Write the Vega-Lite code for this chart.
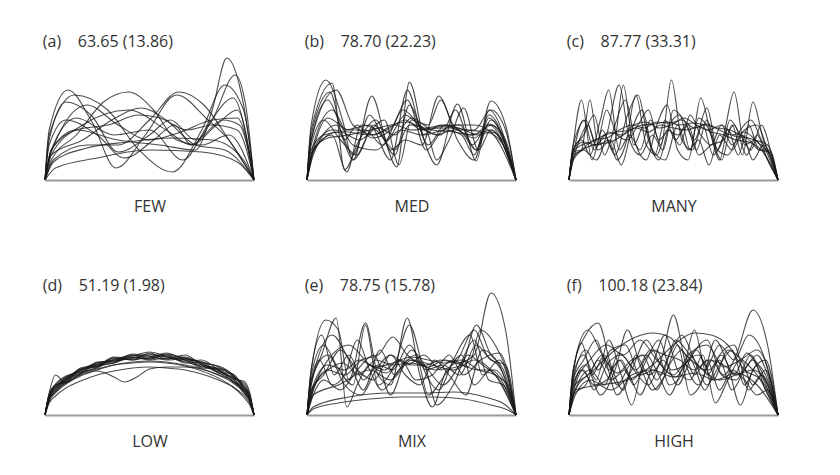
{
"$schema": "https://vega.github.io/schema/vega-lite/v6.json",
"background": "white",
"padding": {"top": 34, "left": 42, "right": 10, "bottom": 10},
"config": {
"view": {"stroke": null},
"font": "Open Sans",
"title": {"anchor": "start", "fontSize": 16, "fontWeight": "normal", "color": "#333", "font": "Open Sans", "offset": 4},
"axisX": {"domainColor": "#999", "domainWidth": 2, "ticks": false, "labels": false, "grid": false, "titleFontSize": 16, "titleFontWeight": "normal", "titleColor": "#333", "titleFont": "Open Sans", "titlePadding": 18},
"line": {"interpolate": "monotone", "color": "#1a1a1a", "strokeWidth": 1.1, "opacity": 0.78}
},
"datasets": {
"a": [
{"c":1,"x":0,"y":0},{"c":1,"x":3,"y":30},{"c":1,"x":15,"y":50},{"c":1,"x":35,"y":40},{"c":1,"x":55,"y":35},{"c":1,"x":72,"y":30},{"c":1,"x":80,"y":70},{"c":1,"x":87,"y":122},{"c":1,"x":93,"y":95},{"c":1,"x":97,"y":50},{"c":1,"x":100,"y":0},
{"c":2,"x":0,"y":0},{"c":2,"x":3,"y":25},{"c":2,"x":18,"y":55},{"c":2,"x":40,"y":70},{"c":2,"x":58,"y":50},{"c":2,"x":70,"y":35},{"c":2,"x":80,"y":60},{"c":2,"x":91,"y":105},{"c":2,"x":96,"y":75},{"c":2,"x":100,"y":0},
{"c":3,"x":0,"y":0},{"c":3,"x":2,"y":50},{"c":3,"x":11,"y":90},{"c":3,"x":22,"y":60},{"c":3,"x":34,"y":12},{"c":3,"x":48,"y":45},{"c":3,"x":63,"y":85},{"c":3,"x":78,"y":60},{"c":3,"x":88,"y":40},{"c":3,"x":100,"y":0},
{"c":4,"x":0,"y":0},{"c":4,"x":2,"y":45},{"c":4,"x":14,"y":85},{"c":4,"x":30,"y":70},{"c":4,"x":45,"y":30},{"c":4,"x":61,"y":8},{"c":4,"x":75,"y":50},{"c":4,"x":86,"y":95},{"c":4,"x":95,"y":70},{"c":4,"x":100,"y":0},
{"c":5,"x":0,"y":0},{"c":5,"x":3,"y":20},{"c":5,"x":15,"y":45},{"c":5,"x":28,"y":78},{"c":5,"x":40,"y":88},{"c":5,"x":52,"y":70},{"c":5,"x":63,"y":40},{"c":5,"x":75,"y":35},{"c":5,"x":88,"y":45},{"c":5,"x":100,"y":0},
{"c":6,"x":0,"y":0},{"c":6,"x":4,"y":20},{"c":6,"x":20,"y":35},{"c":6,"x":35,"y":35},{"c":6,"x":50,"y":60},{"c":6,"x":64,"y":88},{"c":6,"x":76,"y":75},{"c":6,"x":88,"y":40},{"c":6,"x":100,"y":0},
{"c":7,"x":0,"y":0},{"c":7,"x":2,"y":40},{"c":7,"x":10,"y":78},{"c":7,"x":22,"y":65},{"c":7,"x":35,"y":28},{"c":7,"x":50,"y":45},{"c":7,"x":60,"y":60},{"c":7,"x":72,"y":40},{"c":7,"x":85,"y":60},{"c":7,"x":93,"y":55},{"c":7,"x":100,"y":0},
{"c":8,"x":0,"y":0},{"c":8,"x":3,"y":30},{"c":8,"x":15,"y":50},{"c":8,"x":30,"y":55},{"c":8,"x":45,"y":65},{"c":8,"x":55,"y":62},{"c":8,"x":68,"y":50},{"c":8,"x":80,"y":55},{"c":8,"x":92,"y":50},{"c":8,"x":100,"y":0},
{"c":9,"x":0,"y":0},{"c":9,"x":3,"y":25},{"c":9,"x":18,"y":40},{"c":9,"x":32,"y":60},{"c":9,"x":46,"y":72},{"c":9,"x":58,"y":60},{"c":9,"x":72,"y":35},{"c":9,"x":86,"y":30},{"c":9,"x":100,"y":0},
{"c":10,"x":0,"y":0},{"c":10,"x":5,"y":12},{"c":10,"x":25,"y":22},{"c":10,"x":50,"y":30},{"c":10,"x":75,"y":28},{"c":10,"x":92,"y":18},{"c":10,"x":100,"y":0},
{"c":11,"x":0,"y":0},{"c":11,"x":4,"y":18},{"c":11,"x":20,"y":32},{"c":11,"x":40,"y":38},{"c":11,"x":60,"y":42},{"c":11,"x":80,"y":40},{"c":11,"x":95,"y":20},{"c":11,"x":100,"y":0},
{"c":12,"x":0,"y":0},{"c":12,"x":2,"y":35},{"c":12,"x":10,"y":60},{"c":12,"x":25,"y":45},{"c":12,"x":38,"y":22},{"c":12,"x":52,"y":40},{"c":12,"x":62,"y":55},{"c":12,"x":70,"y":35},{"c":12,"x":82,"y":55},{"c":12,"x":92,"y":70},{"c":12,"x":100,"y":0},
{"c":13,"x":0,"y":0},{"c":13,"x":3,"y":30},{"c":13,"x":15,"y":62},{"c":13,"x":33,"y":45},{"c":13,"x":50,"y":50},{"c":13,"x":66,"y":20},{"c":13,"x":78,"y":55},{"c":13,"x":90,"y":82},{"c":13,"x":100,"y":0},
{"c":14,"x":0,"y":0},{"c":14,"x":3,"y":28},{"c":14,"x":20,"y":75},{"c":14,"x":35,"y":55},{"c":14,"x":50,"y":40},{"c":14,"x":65,"y":48},{"c":14,"x":80,"y":60},{"c":14,"x":92,"y":62},{"c":14,"x":100,"y":0}
],
"b": [
{"c":1,"x":0,"y":0},{"c":1,"x":2,"y":55},{"c":1,"x":9,"y":100},{"c":1,"x":17,"y":60},{"c":1,"x":22,"y":20},{"c":1,"x":31,"y":84},{"c":1,"x":40,"y":30},{"c":1,"x":47,"y":40},{"c":1,"x":55,"y":35},{"c":1,"x":63,"y":84},{"c":1,"x":72,"y":40},{"c":1,"x":80,"y":20},{"c":1,"x":88,"y":79},{"c":1,"x":95,"y":55},{"c":1,"x":100,"y":0},
{"c":2,"x":0,"y":0},{"c":2,"x":2,"y":50},{"c":2,"x":12,"y":97},{"c":2,"x":18,"y":10},{"c":2,"x":25,"y":40},{"c":2,"x":33,"y":60},{"c":2,"x":43,"y":13},{"c":2,"x":49,"y":98},{"c":2,"x":56,"y":40},{"c":2,"x":62,"y":15},{"c":2,"x":72,"y":76},{"c":2,"x":81,"y":19},{"c":2,"x":87,"y":70},{"c":2,"x":100,"y":0},
{"c":3,"x":0,"y":0},{"c":3,"x":2,"y":40},{"c":3,"x":10,"y":80},{"c":3,"x":18,"y":50},{"c":3,"x":30,"y":55},{"c":3,"x":40,"y":20},{"c":3,"x":48,"y":90},{"c":3,"x":56,"y":45},{"c":3,"x":66,"y":50},{"c":3,"x":74,"y":45},{"c":3,"x":80,"y":25},{"c":3,"x":87,"y":65},{"c":3,"x":100,"y":0},
{"c":4,"x":0,"y":0},{"c":4,"x":3,"y":35},{"c":4,"x":12,"y":70},{"c":4,"x":22,"y":35},{"c":4,"x":33,"y":30},{"c":4,"x":45,"y":50},{"c":4,"x":55,"y":45},{"c":4,"x":64,"y":55},{"c":4,"x":72,"y":50},{"c":4,"x":80,"y":42},{"c":4,"x":88,"y":55},{"c":4,"x":95,"y":40},{"c":4,"x":100,"y":0},
{"c":5,"x":0,"y":0},{"c":5,"x":3,"y":30},{"c":5,"x":10,"y":42},{"c":5,"x":20,"y":45},{"c":5,"x":30,"y":50},{"c":5,"x":40,"y":55},{"c":5,"x":48,"y":58},{"c":5,"x":56,"y":52},{"c":5,"x":66,"y":55},{"c":5,"x":76,"y":50},{"c":5,"x":86,"y":48},{"c":5,"x":94,"y":35},{"c":5,"x":100,"y":0},
{"c":6,"x":0,"y":0},{"c":6,"x":3,"y":30},{"c":6,"x":12,"y":50},{"c":6,"x":20,"y":48},{"c":6,"x":30,"y":45},{"c":6,"x":38,"y":50},{"c":6,"x":47,"y":60},{"c":6,"x":55,"y":50},{"c":6,"x":64,"y":52},{"c":6,"x":72,"y":52},{"c":6,"x":82,"y":45},{"c":6,"x":88,"y":48},{"c":6,"x":95,"y":35},{"c":6,"x":100,"y":0},
{"c":7,"x":0,"y":0},{"c":7,"x":2,"y":35},{"c":7,"x":8,"y":60},{"c":7,"x":16,"y":40},{"c":7,"x":24,"y":25},{"c":7,"x":32,"y":55},{"c":7,"x":42,"y":25},{"c":7,"x":49,"y":75},{"c":7,"x":58,"y":35},{"c":7,"x":66,"y":55},{"c":7,"x":74,"y":48},{"c":7,"x":81,"y":30},{"c":7,"x":88,"y":60},{"c":7,"x":100,"y":0},
{"c":8,"x":0,"y":0},{"c":8,"x":3,"y":25},{"c":8,"x":14,"y":55},{"c":8,"x":22,"y":25},{"c":8,"x":30,"y":65},{"c":8,"x":38,"y":40},{"c":8,"x":47,"y":65},{"c":8,"x":56,"y":50},{"c":8,"x":64,"y":45},{"c":8,"x":71,"y":70},{"c":8,"x":79,"y":35},{"c":8,"x":87,"y":55},{"c":8,"x":100,"y":0},
{"c":9,"x":0,"y":0},{"c":9,"x":2,"y":45},{"c":9,"x":11,"y":88},{"c":9,"x":18,"y":40},{"c":9,"x":24,"y":55},{"c":9,"x":31,"y":42},{"c":9,"x":40,"y":50},{"c":9,"x":48,"y":80},{"c":9,"x":57,"y":30},{"c":9,"x":65,"y":50},{"c":9,"x":73,"y":55},{"c":9,"x":81,"y":30},{"c":9,"x":87,"y":62},{"c":9,"x":100,"y":0},
{"c":10,"x":0,"y":0},{"c":10,"x":3,"y":30},{"c":10,"x":15,"y":48},{"c":10,"x":22,"y":20},{"c":10,"x":30,"y":48},{"c":10,"x":37,"y":60},{"c":10,"x":44,"y":15},{"c":10,"x":50,"y":60},{"c":10,"x":58,"y":55},{"c":10,"x":64,"y":80},{"c":10,"x":70,"y":55},{"c":10,"x":78,"y":45},{"c":10,"x":88,"y":50},{"c":10,"x":100,"y":0},
{"c":11,"x":0,"y":0},{"c":11,"x":2,"y":40},{"c":11,"x":14,"y":90},{"c":11,"x":22,"y":55},{"c":11,"x":32,"y":45},{"c":11,"x":42,"y":55},{"c":11,"x":50,"y":50},{"c":11,"x":60,"y":52},{"c":11,"x":70,"y":55},{"c":11,"x":80,"y":55},{"c":11,"x":88,"y":48},{"c":11,"x":100,"y":0},
{"c":12,"x":0,"y":0},{"c":12,"x":3,"y":28},{"c":12,"x":12,"y":45},{"c":12,"x":19,"y":8},{"c":12,"x":26,"y":55},{"c":12,"x":33,"y":50},{"c":12,"x":42,"y":30},{"c":12,"x":49,"y":55},{"c":12,"x":57,"y":50},{"c":12,"x":62,"y":20},{"c":12,"x":68,"y":40},{"c":12,"x":75,"y":72},{"c":12,"x":82,"y":30},{"c":12,"x":88,"y":50},{"c":12,"x":100,"y":0},
{"c":13,"x":0,"y":0},{"c":13,"x":3,"y":30},{"c":13,"x":10,"y":62},{"c":13,"x":20,"y":50},{"c":13,"x":28,"y":50},{"c":13,"x":36,"y":35},{"c":13,"x":46,"y":70},{"c":13,"x":54,"y":55},{"c":13,"x":62,"y":45},{"c":13,"x":70,"y":50},{"c":13,"x":80,"y":50},{"c":13,"x":88,"y":70},{"c":13,"x":95,"y":50},{"c":13,"x":100,"y":0},
{"c":14,"x":0,"y":0},{"c":14,"x":2,"y":30},{"c":14,"x":8,"y":45},{"c":14,"x":16,"y":48},{"c":14,"x":25,"y":40},{"c":14,"x":34,"y":52},{"c":14,"x":42,"y":45},{"c":14,"x":50,"y":62},{"c":14,"x":60,"y":50},{"c":14,"x":70,"y":48},{"c":14,"x":80,"y":45},{"c":14,"x":87,"y":56},{"c":14,"x":94,"y":40},{"c":14,"x":100,"y":0}
],
"c": [
{"c":1,"x":0,"y":0},{"c":1,"x":2,"y":35},{"c":1,"x":6,"y":80},{"c":1,"x":11,"y":20},{"c":1,"x":16,"y":50},{"c":1,"x":21,"y":30},{"c":1,"x":26,"y":95},{"c":1,"x":31,"y":35},{"c":1,"x":36,"y":55},{"c":1,"x":41,"y":25},{"c":1,"x":46,"y":60},{"c":1,"x":51,"y":40},{"c":1,"x":56,"y":55},{"c":1,"x":61,"y":30},{"c":1,"x":66,"y":60},{"c":1,"x":71,"y":30},{"c":1,"x":76,"y":50},{"c":1,"x":81,"y":25},{"c":1,"x":86,"y":55},{"c":1,"x":91,"y":30},{"c":1,"x":96,"y":30},{"c":1,"x":100,"y":0},
{"c":2,"x":0,"y":0},{"c":2,"x":2,"y":30},{"c":2,"x":6,"y":40},{"c":2,"x":10,"y":25},{"c":2,"x":15,"y":60},{"c":2,"x":19,"y":90},{"c":2,"x":24,"y":30},{"c":2,"x":29,"y":45},{"c":2,"x":34,"y":30},{"c":2,"x":39,"y":60},{"c":2,"x":44,"y":35},{"c":2,"x":49,"y":100},{"c":2,"x":54,"y":40},{"c":2,"x":59,"y":30},{"c":2,"x":64,"y":55},{"c":2,"x":69,"y":25},{"c":2,"x":74,"y":45},{"c":2,"x":79,"y":88},{"c":2,"x":84,"y":35},{"c":2,"x":89,"y":40},{"c":2,"x":94,"y":25},{"c":2,"x":100,"y":0},
{"c":3,"x":0,"y":0},{"c":3,"x":2,"y":25},{"c":3,"x":7,"y":60},{"c":3,"x":12,"y":30},{"c":3,"x":17,"y":45},{"c":3,"x":22,"y":25},{"c":3,"x":28,"y":65},{"c":3,"x":33,"y":85},{"c":3,"x":38,"y":40},{"c":3,"x":43,"y":20},{"c":3,"x":48,"y":55},{"c":3,"x":53,"y":65},{"c":3,"x":58,"y":30},{"c":3,"x":63,"y":82},{"c":3,"x":68,"y":45},{"c":3,"x":73,"y":20},{"c":3,"x":78,"y":55},{"c":3,"x":83,"y":25},{"c":3,"x":88,"y":78},{"c":3,"x":93,"y":40},{"c":3,"x":97,"y":20},{"c":3,"x":100,"y":0},
{"c":4,"x":0,"y":0},{"c":4,"x":2,"y":30},{"c":4,"x":7,"y":45},{"c":4,"x":12,"y":65},{"c":4,"x":17,"y":25},{"c":4,"x":22,"y":55},{"c":4,"x":27,"y":80},{"c":4,"x":32,"y":35},{"c":4,"x":37,"y":20},{"c":4,"x":42,"y":55},{"c":4,"x":47,"y":75},{"c":4,"x":52,"y":30},{"c":4,"x":57,"y":20},{"c":4,"x":62,"y":62},{"c":4,"x":67,"y":50},{"c":4,"x":72,"y":20},{"c":4,"x":77,"y":60},{"c":4,"x":82,"y":45},{"c":4,"x":87,"y":30},{"c":4,"x":92,"y":55},{"c":4,"x":97,"y":25},{"c":4,"x":100,"y":0},
{"c":5,"x":0,"y":0},{"c":5,"x":2,"y":28},{"c":5,"x":6,"y":35},{"c":5,"x":11,"y":38},{"c":5,"x":17,"y":45},{"c":5,"x":23,"y":48},{"c":5,"x":29,"y":50},{"c":5,"x":35,"y":55},{"c":5,"x":41,"y":56},{"c":5,"x":47,"y":58},{"c":5,"x":53,"y":55},{"c":5,"x":59,"y":57},{"c":5,"x":65,"y":55},{"c":5,"x":71,"y":52},{"c":5,"x":77,"y":50},{"c":5,"x":83,"y":44},{"c":5,"x":89,"y":40},{"c":5,"x":95,"y":35},{"c":5,"x":100,"y":0},
{"c":6,"x":0,"y":0},{"c":6,"x":2,"y":22},{"c":6,"x":6,"y":30},{"c":6,"x":12,"y":40},{"c":6,"x":18,"y":42},{"c":6,"x":24,"y":50},{"c":6,"x":30,"y":55},{"c":6,"x":36,"y":52},{"c":6,"x":42,"y":58},{"c":6,"x":48,"y":57},{"c":6,"x":54,"y":60},{"c":6,"x":60,"y":52},{"c":6,"x":66,"y":56},{"c":6,"x":72,"y":50},{"c":6,"x":78,"y":45},{"c":6,"x":84,"y":48},{"c":6,"x":90,"y":38},{"c":6,"x":96,"y":25},{"c":6,"x":100,"y":0},
{"c":7,"x":0,"y":0},{"c":7,"x":2,"y":30},{"c":7,"x":7,"y":38},{"c":7,"x":13,"y":35},{"c":7,"x":19,"y":48},{"c":7,"x":25,"y":45},{"c":7,"x":31,"y":55},{"c":7,"x":37,"y":58},{"c":7,"x":43,"y":52},{"c":7,"x":49,"y":55},{"c":7,"x":55,"y":62},{"c":7,"x":61,"y":55},{"c":7,"x":67,"y":50},{"c":7,"x":73,"y":55},{"c":7,"x":79,"y":44},{"c":7,"x":85,"y":42},{"c":7,"x":91,"y":30},{"c":7,"x":96,"y":28},{"c":7,"x":100,"y":0},
{"c":8,"x":0,"y":0},{"c":8,"x":2,"y":20},{"c":8,"x":5,"y":40},{"c":8,"x":9,"y":55},{"c":8,"x":13,"y":35},{"c":8,"x":18,"y":70},{"c":8,"x":23,"y":45},{"c":8,"x":28,"y":40},{"c":8,"x":33,"y":55},{"c":8,"x":38,"y":70},{"c":8,"x":43,"y":40},{"c":8,"x":48,"y":50},{"c":8,"x":53,"y":35},{"c":8,"x":58,"y":65},{"c":8,"x":63,"y":45},{"c":8,"x":68,"y":35},{"c":8,"x":73,"y":55},{"c":8,"x":78,"y":35},{"c":8,"x":84,"y":50},{"c":8,"x":90,"y":55},{"c":8,"x":95,"y":30},{"c":8,"x":100,"y":0},
{"c":9,"x":0,"y":0},{"c":9,"x":2,"y":35},{"c":9,"x":8,"y":60},{"c":9,"x":14,"y":30},{"c":9,"x":20,"y":40},{"c":9,"x":25,"y":15},{"c":9,"x":30,"y":50},{"c":9,"x":35,"y":70},{"c":9,"x":40,"y":30},{"c":9,"x":46,"y":20},{"c":9,"x":52,"y":55},{"c":9,"x":57,"y":30},{"c":9,"x":62,"y":40},{"c":9,"x":67,"y":15},{"c":9,"x":72,"y":45},{"c":9,"x":78,"y":30},{"c":9,"x":83,"y":45},{"c":9,"x":88,"y":20},{"c":9,"x":93,"y":35},{"c":9,"x":100,"y":0},
{"c":10,"x":0,"y":0},{"c":10,"x":2,"y":28},{"c":10,"x":7,"y":30},{"c":10,"x":13,"y":20},{"c":10,"x":18,"y":45},{"c":10,"x":24,"y":95},{"c":10,"x":29,"y":40},{"c":10,"x":34,"y":25},{"c":10,"x":40,"y":45},{"c":10,"x":45,"y":30},{"c":10,"x":50,"y":70},{"c":10,"x":55,"y":60},{"c":10,"x":60,"y":40},{"c":10,"x":66,"y":72},{"c":10,"x":71,"y":30},{"c":10,"x":76,"y":25},{"c":10,"x":82,"y":50},{"c":10,"x":87,"y":60},{"c":10,"x":92,"y":40},{"c":10,"x":100,"y":0},
{"c":11,"x":0,"y":0},{"c":11,"x":2,"y":25},{"c":11,"x":6,"y":30},{"c":11,"x":10,"y":80},{"c":11,"x":14,"y":35},{"c":11,"x":19,"y":40},{"c":11,"x":23,"y":20},{"c":11,"x":27,"y":35},{"c":11,"x":32,"y":85},{"c":11,"x":37,"y":35},{"c":11,"x":42,"y":25},{"c":11,"x":47,"y":50},{"c":11,"x":52,"y":45},{"c":11,"x":57,"y":55},{"c":11,"x":62,"y":25},{"c":11,"x":68,"y":35},{"c":11,"x":74,"y":40},{"c":11,"x":79,"y":55},{"c":11,"x":85,"y":25},{"c":11,"x":90,"y":45},{"c":11,"x":95,"y":20},{"c":11,"x":100,"y":0},
{"c":12,"x":0,"y":0},{"c":12,"x":2,"y":20},{"c":12,"x":8,"y":32},{"c":12,"x":14,"y":36},{"c":12,"x":20,"y":38},{"c":12,"x":26,"y":45},{"c":12,"x":32,"y":52},{"c":12,"x":38,"y":48},{"c":12,"x":44,"y":55},{"c":12,"x":50,"y":52},{"c":12,"x":56,"y":50},{"c":12,"x":62,"y":53},{"c":12,"x":68,"y":48},{"c":12,"x":74,"y":45},{"c":12,"x":80,"y":40},{"c":12,"x":86,"y":38},{"c":12,"x":92,"y":30},{"c":12,"x":100,"y":0}
],
"d": [
{"c":1,"x":0,"y":0},{"c":1,"x":2,"y":20},{"c":1,"x":5,"y":30},{"c":1,"x":10,"y":38},{"c":1,"x":17,"y":44},{"c":1,"x":25,"y":52},{"c":1,"x":33,"y":55},{"c":1,"x":42,"y":60},{"c":1,"x":50,"y":58},{"c":1,"x":58,"y":62},{"c":1,"x":67,"y":55},{"c":1,"x":75,"y":50},{"c":1,"x":83,"y":46},{"c":1,"x":90,"y":36},{"c":1,"x":95,"y":26},{"c":1,"x":98,"y":16},{"c":1,"x":100,"y":0},
{"c":2,"x":0,"y":0},{"c":2,"x":2,"y":18},{"c":2,"x":5,"y":27},{"c":2,"x":10,"y":33},{"c":2,"x":17,"y":46},{"c":2,"x":25,"y":48},{"c":2,"x":33,"y":57},{"c":2,"x":42,"y":55},{"c":2,"x":50,"y":62},{"c":2,"x":58,"y":56},{"c":2,"x":67,"y":57},{"c":2,"x":75,"y":48},{"c":2,"x":83,"y":47},{"c":2,"x":90,"y":40},{"c":2,"x":95,"y":28},{"c":2,"x":98,"y":18},{"c":2,"x":100,"y":0},
{"c":3,"x":0,"y":0},{"c":3,"x":2,"y":22},{"c":3,"x":5,"y":40},{"c":3,"x":10,"y":32},{"c":3,"x":17,"y":42},{"c":3,"x":25,"y":50},{"c":3,"x":33,"y":52},{"c":3,"x":42,"y":58},{"c":3,"x":50,"y":56},{"c":3,"x":58,"y":60},{"c":3,"x":67,"y":52},{"c":3,"x":75,"y":53},{"c":3,"x":83,"y":42},{"c":3,"x":90,"y":38},{"c":3,"x":95,"y":30},{"c":3,"x":98,"y":18},{"c":3,"x":100,"y":0},
{"c":4,"x":0,"y":0},{"c":4,"x":2,"y":15},{"c":4,"x":5,"y":24},{"c":4,"x":10,"y":32},{"c":4,"x":17,"y":40},{"c":4,"x":25,"y":44},{"c":4,"x":33,"y":38},{"c":4,"x":38,"y":33},{"c":4,"x":44,"y":38},{"c":4,"x":50,"y":46},{"c":4,"x":58,"y":48},{"c":4,"x":67,"y":48},{"c":4,"x":75,"y":46},{"c":4,"x":83,"y":40},{"c":4,"x":90,"y":34},{"c":4,"x":95,"y":24},{"c":4,"x":98,"y":15},{"c":4,"x":100,"y":0},
{"c":5,"x":0,"y":0},{"c":5,"x":2,"y":12},{"c":5,"x":5,"y":19},{"c":5,"x":10,"y":27},{"c":5,"x":17,"y":34},{"c":5,"x":25,"y":40},{"c":5,"x":33,"y":44},{"c":5,"x":42,"y":47},{"c":5,"x":50,"y":48},{"c":5,"x":58,"y":47},{"c":5,"x":67,"y":45},{"c":5,"x":75,"y":41},{"c":5,"x":83,"y":35},{"c":5,"x":90,"y":28},{"c":5,"x":95,"y":20},{"c":5,"x":98,"y":12},{"c":5,"x":100,"y":0},
{"c":6,"x":0,"y":0},{"c":6,"x":2,"y":14},{"c":6,"x":5,"y":22},{"c":6,"x":10,"y":31},{"c":6,"x":17,"y":39},{"c":6,"x":25,"y":45},{"c":6,"x":33,"y":50},{"c":6,"x":42,"y":53},{"c":6,"x":50,"y":54},{"c":6,"x":58,"y":53},{"c":6,"x":67,"y":50},{"c":6,"x":75,"y":46},{"c":6,"x":83,"y":40},{"c":6,"x":90,"y":32},{"c":6,"x":95,"y":23},{"c":6,"x":98,"y":14},{"c":6,"x":100,"y":0},
{"c":7,"x":0,"y":0},{"c":7,"x":2,"y":20},{"c":7,"x":5,"y":28},{"c":7,"x":10,"y":37},{"c":7,"x":17,"y":45},{"c":7,"x":25,"y":49},{"c":7,"x":33,"y":58},{"c":7,"x":42,"y":57},{"c":7,"x":50,"y":60},{"c":7,"x":58,"y":58},{"c":7,"x":67,"y":58},{"c":7,"x":75,"y":51},{"c":7,"x":83,"y":44},{"c":7,"x":90,"y":37},{"c":7,"x":95,"y":32},{"c":7,"x":98,"y":20},{"c":7,"x":100,"y":0},
{"c":8,"x":0,"y":0},{"c":8,"x":2,"y":17},{"c":8,"x":5,"y":26},{"c":8,"x":10,"y":36},{"c":8,"x":17,"y":41},{"c":8,"x":25,"y":53},{"c":8,"x":33,"y":54},{"c":8,"x":42,"y":61},{"c":8,"x":50,"y":59},{"c":8,"x":58,"y":55},{"c":8,"x":67,"y":56},{"c":8,"x":75,"y":52},{"c":8,"x":83,"y":43},{"c":8,"x":90,"y":41},{"c":8,"x":95,"y":27},{"c":8,"x":98,"y":17},{"c":8,"x":100,"y":0},
{"c":9,"x":0,"y":0},{"c":9,"x":2,"y":19},{"c":9,"x":5,"y":29},{"c":9,"x":10,"y":34},{"c":9,"x":17,"y":47},{"c":9,"x":25,"y":50},{"c":9,"x":33,"y":56},{"c":9,"x":42,"y":59},{"c":9,"x":50,"y":63},{"c":9,"x":58,"y":59},{"c":9,"x":67,"y":53},{"c":9,"x":75,"y":49},{"c":9,"x":83,"y":45},{"c":9,"x":90,"y":33},{"c":9,"x":95,"y":25},{"c":9,"x":98,"y":16},{"c":9,"x":100,"y":0},
{"c":10,"x":0,"y":0},{"c":10,"x":2,"y":21},{"c":10,"x":5,"y":31},{"c":10,"x":10,"y":39},{"c":10,"x":17,"y":43},{"c":10,"x":25,"y":47},{"c":10,"x":33,"y":55},{"c":10,"x":42,"y":56},{"c":10,"x":50,"y":57},{"c":10,"x":58,"y":61},{"c":10,"x":67,"y":57},{"c":10,"x":75,"y":53},{"c":10,"x":83,"y":48},{"c":10,"x":90,"y":38},{"c":10,"x":95,"y":22},{"c":10,"x":98,"y":14},{"c":10,"x":100,"y":0},
{"c":11,"x":0,"y":0},{"c":11,"x":2,"y":16},{"c":11,"x":5,"y":24},{"c":11,"x":10,"y":35},{"c":11,"x":17,"y":44},{"c":11,"x":25,"y":51},{"c":11,"x":33,"y":53},{"c":11,"x":42,"y":58},{"c":11,"x":50,"y":55},{"c":11,"x":58,"y":57},{"c":11,"x":67,"y":54},{"c":11,"x":75,"y":55},{"c":11,"x":83,"y":45},{"c":11,"x":90,"y":36},{"c":11,"x":95,"y":34},{"c":11,"x":98,"y":22},{"c":11,"x":100,"y":0},
{"c":12,"x":0,"y":0},{"c":12,"x":2,"y":18},{"c":12,"x":5,"y":28},{"c":12,"x":10,"y":37},{"c":12,"x":17,"y":42},{"c":12,"x":25,"y":48},{"c":12,"x":33,"y":57},{"c":12,"x":42,"y":55},{"c":12,"x":50,"y":58},{"c":12,"x":58,"y":56},{"c":12,"x":67,"y":60},{"c":12,"x":75,"y":50},{"c":12,"x":83,"y":42},{"c":12,"x":90,"y":34},{"c":12,"x":95,"y":25},{"c":12,"x":98,"y":15},{"c":12,"x":100,"y":0},
{"c":13,"x":0,"y":0},{"c":13,"x":2,"y":20},{"c":13,"x":5,"y":30},{"c":13,"x":10,"y":33},{"c":13,"x":17,"y":45},{"c":13,"x":25,"y":52},{"c":13,"x":33,"y":54},{"c":13,"x":42,"y":57},{"c":13,"x":50,"y":61},{"c":13,"x":58,"y":58},{"c":13,"x":67,"y":55},{"c":13,"x":75,"y":47},{"c":13,"x":83,"y":46},{"c":13,"x":90,"y":39},{"c":13,"x":95,"y":29},{"c":13,"x":98,"y":19},{"c":13,"x":100,"y":0},
{"c":14,"x":0,"y":0},{"c":14,"x":2,"y":15},{"c":14,"x":5,"y":23},{"c":14,"x":10,"y":33},{"c":14,"x":17,"y":41},{"c":14,"x":25,"y":46},{"c":14,"x":33,"y":50},{"c":14,"x":42,"y":52},{"c":14,"x":50,"y":53},{"c":14,"x":58,"y":52},{"c":14,"x":67,"y":49},{"c":14,"x":75,"y":44},{"c":14,"x":83,"y":37},{"c":14,"x":90,"y":28},{"c":14,"x":95,"y":18},{"c":14,"x":98,"y":10},{"c":14,"x":100,"y":0},
{"c":15,"x":0,"y":0},{"c":15,"x":2,"y":18},{"c":15,"x":5,"y":26},{"c":15,"x":10,"y":36},{"c":15,"x":17,"y":46},{"c":15,"x":25,"y":49},{"c":15,"x":33,"y":52},{"c":15,"x":42,"y":60},{"c":15,"x":50,"y":56},{"c":15,"x":58,"y":60},{"c":15,"x":67,"y":56},{"c":15,"x":75,"y":52},{"c":15,"x":83,"y":49},{"c":15,"x":90,"y":40},{"c":15,"x":95,"y":26},{"c":15,"x":98,"y":17},{"c":15,"x":100,"y":0}
],
"e": [
{"c":1,"x":0,"y":0},{"c":1,"x":2,"y":45},{"c":1,"x":9,"y":95},{"c":1,"x":15,"y":85},{"c":1,"x":20,"y":35},{"c":1,"x":28,"y":92},{"c":1,"x":34,"y":40},{"c":1,"x":40,"y":30},{"c":1,"x":48,"y":97},{"c":1,"x":54,"y":40},{"c":1,"x":60,"y":8},{"c":1,"x":67,"y":45},{"c":1,"x":74,"y":50},{"c":1,"x":81,"y":90},{"c":1,"x":88,"y":60},{"c":1,"x":94,"y":45},{"c":1,"x":100,"y":0},
{"c":2,"x":0,"y":0},{"c":2,"x":2,"y":30},{"c":2,"x":7,"y":60},{"c":2,"x":14,"y":97},{"c":2,"x":19,"y":8},{"c":2,"x":24,"y":30},{"c":2,"x":30,"y":50},{"c":2,"x":37,"y":45},{"c":2,"x":44,"y":55},{"c":2,"x":50,"y":50},{"c":2,"x":57,"y":50},{"c":2,"x":64,"y":55},{"c":2,"x":72,"y":52},{"c":2,"x":80,"y":60},{"c":2,"x":88,"y":122},{"c":2,"x":95,"y":85},{"c":2,"x":100,"y":0},
{"c":3,"x":0,"y":0},{"c":3,"x":3,"y":25},{"c":3,"x":10,"y":45},{"c":3,"x":18,"y":40},{"c":3,"x":26,"y":55},{"c":3,"x":34,"y":60},{"c":3,"x":41,"y":78},{"c":3,"x":48,"y":60},{"c":3,"x":55,"y":50},{"c":3,"x":62,"y":45},{"c":3,"x":70,"y":55},{"c":3,"x":77,"y":48},{"c":3,"x":83,"y":85},{"c":3,"x":90,"y":70},{"c":3,"x":96,"y":40},{"c":3,"x":100,"y":0},
{"c":4,"x":0,"y":0},{"c":4,"x":2,"y":40},{"c":4,"x":8,"y":70},{"c":4,"x":14,"y":50},{"c":4,"x":22,"y":30},{"c":4,"x":28,"y":90},{"c":4,"x":34,"y":30},{"c":4,"x":42,"y":50},{"c":4,"x":49,"y":90},{"c":4,"x":56,"y":45},{"c":4,"x":63,"y":25},{"c":4,"x":70,"y":55},{"c":4,"x":78,"y":80},{"c":4,"x":84,"y":40},{"c":4,"x":92,"y":55},{"c":4,"x":100,"y":0},
{"c":5,"x":0,"y":0},{"c":5,"x":3,"y":20},{"c":5,"x":15,"y":30},{"c":5,"x":30,"y":45},{"c":5,"x":40,"y":35},{"c":5,"x":50,"y":55},{"c":5,"x":60,"y":50},{"c":5,"x":70,"y":45},{"c":5,"x":80,"y":55},{"c":5,"x":90,"y":40},{"c":5,"x":100,"y":0},
{"c":6,"x":0,"y":0},{"c":6,"x":3,"y":30},{"c":6,"x":10,"y":50},{"c":6,"x":18,"y":45},{"c":6,"x":25,"y":55},{"c":6,"x":33,"y":48},{"c":6,"x":41,"y":52},{"c":6,"x":50,"y":58},{"c":6,"x":58,"y":55},{"c":6,"x":66,"y":52},{"c":6,"x":74,"y":55},{"c":6,"x":82,"y":45},{"c":6,"x":90,"y":40},{"c":6,"x":96,"y":30},{"c":6,"x":100,"y":0},
{"c":7,"x":0,"y":0},{"c":7,"x":3,"y":6},{"c":7,"x":15,"y":12},{"c":7,"x":30,"y":16},{"c":7,"x":45,"y":18},{"c":7,"x":60,"y":18},{"c":7,"x":75,"y":16},{"c":7,"x":88,"y":10},{"c":7,"x":97,"y":4},{"c":7,"x":100,"y":0},
{"c":8,"x":0,"y":0},{"c":8,"x":3,"y":8},{"c":8,"x":20,"y":18},{"c":8,"x":40,"y":22},{"c":8,"x":55,"y":22},{"c":8,"x":70,"y":23},{"c":8,"x":85,"y":18},{"c":8,"x":95,"y":10},{"c":8,"x":100,"y":0},
{"c":9,"x":0,"y":0},{"c":9,"x":2,"y":35},{"c":9,"x":10,"y":60},{"c":9,"x":18,"y":30},{"c":9,"x":26,"y":20},{"c":9,"x":33,"y":45},{"c":9,"x":40,"y":60},{"c":9,"x":47,"y":40},{"c":9,"x":54,"y":30},{"c":9,"x":61,"y":55},{"c":9,"x":68,"y":40},{"c":9,"x":76,"y":20},{"c":9,"x":84,"y":65},{"c":9,"x":92,"y":50},{"c":9,"x":100,"y":0},
{"c":10,"x":0,"y":0},{"c":10,"x":2,"y":30},{"c":10,"x":12,"y":80},{"c":10,"x":20,"y":55},{"c":10,"x":27,"y":25},{"c":10,"x":35,"y":65},{"c":10,"x":42,"y":40},{"c":10,"x":50,"y":65},{"c":10,"x":58,"y":45},{"c":10,"x":65,"y":30},{"c":10,"x":73,"y":50},{"c":10,"x":80,"y":75},{"c":10,"x":87,"y":35},{"c":10,"x":94,"y":30},{"c":10,"x":100,"y":0},
{"c":11,"x":0,"y":0},{"c":11,"x":3,"y":20},{"c":11,"x":8,"y":35},{"c":11,"x":16,"y":25},{"c":11,"x":24,"y":45},{"c":11,"x":32,"y":60},{"c":11,"x":40,"y":20},{"c":11,"x":48,"y":55},{"c":11,"x":56,"y":50},{"c":11,"x":62,"y":10},{"c":11,"x":70,"y":30},{"c":11,"x":77,"y":60},{"c":11,"x":84,"y":50},{"c":11,"x":92,"y":35},{"c":11,"x":100,"y":0},
{"c":12,"x":0,"y":0},{"c":12,"x":2,"y":45},{"c":12,"x":7,"y":80},{"c":12,"x":13,"y":40},{"c":12,"x":20,"y":60},{"c":12,"x":27,"y":35},{"c":12,"x":34,"y":50},{"c":12,"x":41,"y":45},{"c":12,"x":49,"y":70},{"c":12,"x":57,"y":45},{"c":12,"x":65,"y":50},{"c":12,"x":73,"y":40},{"c":12,"x":81,"y":70},{"c":12,"x":88,"y":55},{"c":12,"x":95,"y":50},{"c":12,"x":100,"y":0},
{"c":13,"x":0,"y":0},{"c":13,"x":3,"y":28},{"c":13,"x":10,"y":45},{"c":13,"x":17,"y":52},{"c":13,"x":25,"y":40},{"c":13,"x":33,"y":55},{"c":13,"x":41,"y":50},{"c":13,"x":50,"y":52},{"c":13,"x":58,"y":48},{"c":13,"x":66,"y":55},{"c":13,"x":74,"y":50},{"c":13,"x":82,"y":45},{"c":13,"x":90,"y":45},{"c":13,"x":100,"y":0},
{"c":14,"x":0,"y":0},{"c":14,"x":2,"y":25},{"c":14,"x":8,"y":40},{"c":14,"x":16,"y":65},{"c":14,"x":24,"y":45},{"c":14,"x":32,"y":35},{"c":14,"x":40,"y":60},{"c":14,"x":48,"y":50},{"c":14,"x":56,"y":60},{"c":14,"x":64,"y":45},{"c":14,"x":72,"y":55},{"c":14,"x":80,"y":85},{"c":14,"x":86,"y":60},{"c":14,"x":93,"y":45},{"c":14,"x":100,"y":0},
{"c":15,"x":0,"y":0},{"c":15,"x":3,"y":25},{"c":15,"x":10,"y":55},{"c":15,"x":20,"y":70},{"c":15,"x":30,"y":50},{"c":15,"x":38,"y":42},{"c":15,"x":45,"y":55},{"c":15,"x":52,"y":35},{"c":15,"x":60,"y":40},{"c":15,"x":68,"y":60},{"c":15,"x":75,"y":40},{"c":15,"x":83,"y":55},{"c":15,"x":92,"y":62},{"c":15,"x":100,"y":0},
{"c":16,"x":0,"y":0},{"c":16,"x":2,"y":35},{"c":16,"x":6,"y":55},{"c":16,"x":12,"y":30},{"c":16,"x":18,"y":40},{"c":16,"x":24,"y":75},{"c":16,"x":30,"y":45},{"c":16,"x":36,"y":25},{"c":16,"x":44,"y":45},{"c":16,"x":52,"y":60},{"c":16,"x":58,"y":20},{"c":16,"x":66,"y":40},{"c":16,"x":74,"y":60},{"c":16,"x":80,"y":30},{"c":16,"x":88,"y":45},{"c":16,"x":100,"y":0}
],
"f": [
{"c":1,"x":0,"y":0},{"c":1,"x":2,"y":45},{"c":1,"x":8,"y":80},{"c":1,"x":14,"y":92},{"c":1,"x":20,"y":50},{"c":1,"x":26,"y":25},{"c":1,"x":32,"y":60},{"c":1,"x":38,"y":40},{"c":1,"x":44,"y":55},{"c":1,"x":50,"y":100},{"c":1,"x":56,"y":50},{"c":1,"x":62,"y":30},{"c":1,"x":68,"y":55},{"c":1,"x":74,"y":40},{"c":1,"x":80,"y":60},{"c":1,"x":88,"y":105},{"c":1,"x":95,"y":70},{"c":1,"x":100,"y":0},
{"c":2,"x":0,"y":0},{"c":2,"x":3,"y":25},{"c":2,"x":12,"y":45},{"c":2,"x":22,"y":65},{"c":2,"x":32,"y":78},{"c":2,"x":40,"y":82},{"c":2,"x":48,"y":78},{"c":2,"x":56,"y":60},{"c":2,"x":64,"y":45},{"c":2,"x":72,"y":35},{"c":2,"x":80,"y":40},{"c":2,"x":88,"y":45},{"c":2,"x":95,"y":30},{"c":2,"x":100,"y":0},
{"c":3,"x":0,"y":0},{"c":3,"x":3,"y":25},{"c":3,"x":15,"y":30},{"c":3,"x":28,"y":35},{"c":3,"x":40,"y":50},{"c":3,"x":50,"y":70},{"c":3,"x":60,"y":82},{"c":3,"x":68,"y":80},{"c":3,"x":76,"y":70},{"c":3,"x":84,"y":45},{"c":3,"x":92,"y":35},{"c":3,"x":100,"y":0},
{"c":4,"x":0,"y":0},{"c":4,"x":2,"y":40},{"c":4,"x":7,"y":60},{"c":4,"x":13,"y":35},{"c":4,"x":19,"y":75},{"c":4,"x":25,"y":40},{"c":4,"x":30,"y":10},{"c":4,"x":36,"y":55},{"c":4,"x":42,"y":65},{"c":4,"x":48,"y":30},{"c":4,"x":54,"y":40},{"c":4,"x":60,"y":85},{"c":4,"x":66,"y":40},{"c":4,"x":72,"y":55},{"c":4,"x":78,"y":25},{"c":4,"x":84,"y":45},{"c":4,"x":90,"y":60},{"c":4,"x":95,"y":40},{"c":4,"x":100,"y":0},
{"c":5,"x":0,"y":0},{"c":5,"x":2,"y":30},{"c":5,"x":8,"y":50},{"c":5,"x":15,"y":20},{"c":5,"x":22,"y":45},{"c":5,"x":28,"y":85},{"c":5,"x":34,"y":50},{"c":5,"x":40,"y":25},{"c":5,"x":46,"y":40},{"c":5,"x":52,"y":70},{"c":5,"x":58,"y":20},{"c":5,"x":64,"y":35},{"c":5,"x":70,"y":75},{"c":5,"x":76,"y":50},{"c":5,"x":82,"y":10},{"c":5,"x":88,"y":45},{"c":5,"x":94,"y":55},{"c":5,"x":100,"y":0},
{"c":6,"x":0,"y":0},{"c":6,"x":2,"y":35},{"c":6,"x":7,"y":55},{"c":6,"x":13,"y":75},{"c":6,"x":19,"y":45},{"c":6,"x":25,"y":55},{"c":6,"x":31,"y":30},{"c":6,"x":37,"y":55},{"c":6,"x":43,"y":75},{"c":6,"x":49,"y":45},{"c":6,"x":55,"y":50},{"c":6,"x":61,"y":65},{"c":6,"x":67,"y":45},{"c":6,"x":73,"y":60},{"c":6,"x":79,"y":40},{"c":6,"x":85,"y":62},{"c":6,"x":92,"y":40},{"c":6,"x":100,"y":0},
{"c":7,"x":0,"y":0},{"c":7,"x":2,"y":20},{"c":7,"x":8,"y":30},{"c":7,"x":14,"y":55},{"c":7,"x":20,"y":35},{"c":7,"x":27,"y":45},{"c":7,"x":34,"y":20},{"c":7,"x":40,"y":50},{"c":7,"x":46,"y":80},{"c":7,"x":52,"y":45},{"c":7,"x":58,"y":35},{"c":7,"x":64,"y":60},{"c":7,"x":70,"y":12},{"c":7,"x":76,"y":35},{"c":7,"x":82,"y":55},{"c":7,"x":88,"y":30},{"c":7,"x":94,"y":45},{"c":7,"x":100,"y":0},
{"c":8,"x":0,"y":0},{"c":8,"x":2,"y":40},{"c":8,"x":6,"y":72},{"c":8,"x":11,"y":40},{"c":8,"x":17,"y":60},{"c":8,"x":23,"y":30},{"c":8,"x":29,"y":50},{"c":8,"x":35,"y":60},{"c":8,"x":42,"y":35},{"c":8,"x":48,"y":60},{"c":8,"x":54,"y":80},{"c":8,"x":60,"y":55},{"c":8,"x":66,"y":30},{"c":8,"x":72,"y":50},{"c":8,"x":78,"y":65},{"c":8,"x":84,"y":30},{"c":8,"x":90,"y":50},{"c":8,"x":96,"y":30},{"c":8,"x":100,"y":0},
{"c":9,"x":0,"y":0},{"c":9,"x":3,"y":25},{"c":9,"x":10,"y":45},{"c":9,"x":17,"y":30},{"c":9,"x":24,"y":62},{"c":9,"x":31,"y":45},{"c":9,"x":38,"y":30},{"c":9,"x":45,"y":55},{"c":9,"x":52,"y":30},{"c":9,"x":59,"y":60},{"c":9,"x":66,"y":75},{"c":9,"x":73,"y":40},{"c":9,"x":80,"y":35},{"c":9,"x":87,"y":60},{"c":9,"x":94,"y":25},{"c":9,"x":100,"y":0},
{"c":10,"x":0,"y":0},{"c":10,"x":2,"y":35},{"c":10,"x":8,"y":65},{"c":10,"x":14,"y":45},{"c":10,"x":20,"y":65},{"c":10,"x":27,"y":70},{"c":10,"x":34,"y":40},{"c":10,"x":41,"y":45},{"c":10,"x":48,"y":20},{"c":10,"x":55,"y":50},{"c":10,"x":62,"y":60},{"c":10,"x":69,"y":35},{"c":10,"x":76,"y":65},{"c":10,"x":83,"y":55},{"c":10,"x":90,"y":40},{"c":10,"x":100,"y":0},
{"c":11,"x":0,"y":0},{"c":11,"x":2,"y":28},{"c":11,"x":9,"y":40},{"c":11,"x":16,"y":60},{"c":11,"x":23,"y":20},{"c":11,"x":30,"y":45},{"c":11,"x":37,"y":75},{"c":11,"x":44,"y":50},{"c":11,"x":51,"y":38},{"c":11,"x":58,"y":55},{"c":11,"x":65,"y":25},{"c":11,"x":72,"y":60},{"c":11,"x":79,"y":70},{"c":11,"x":86,"y":25},{"c":11,"x":92,"y":40},{"c":11,"x":100,"y":0},
{"c":12,"x":0,"y":0},{"c":12,"x":2,"y":32},{"c":12,"x":7,"y":45},{"c":12,"x":12,"y":25},{"c":12,"x":18,"y":50},{"c":12,"x":25,"y":60},{"c":12,"x":32,"y":45},{"c":12,"x":39,"y":65},{"c":12,"x":46,"y":60},{"c":12,"x":53,"y":55},{"c":12,"x":60,"y":45},{"c":12,"x":67,"y":55},{"c":12,"x":74,"y":50},{"c":12,"x":81,"y":40},{"c":12,"x":88,"y":55},{"c":12,"x":94,"y":35},{"c":12,"x":100,"y":0},
{"c":13,"x":0,"y":0},{"c":13,"x":3,"y":30},{"c":13,"x":10,"y":55},{"c":13,"x":18,"y":70},{"c":13,"x":26,"y":60},{"c":13,"x":34,"y":75},{"c":13,"x":42,"y":55},{"c":13,"x":50,"y":40},{"c":13,"x":58,"y":62},{"c":13,"x":66,"y":70},{"c":13,"x":74,"y":48},{"c":13,"x":82,"y":55},{"c":13,"x":90,"y":65},{"c":13,"x":96,"y":40},{"c":13,"x":100,"y":0},
{"c":14,"x":0,"y":0},{"c":14,"x":2,"y":25},{"c":14,"x":6,"y":45},{"c":14,"x":12,"y":30},{"c":14,"x":18,"y":35},{"c":14,"x":24,"y":55},{"c":14,"x":30,"y":35},{"c":14,"x":36,"y":45},{"c":14,"x":42,"y":25},{"c":14,"x":48,"y":50},{"c":14,"x":54,"y":65},{"c":14,"x":60,"y":40},{"c":14,"x":66,"y":55},{"c":14,"x":72,"y":25},{"c":14,"x":78,"y":45},{"c":14,"x":84,"y":35},{"c":14,"x":90,"y":20},{"c":14,"x":95,"y":25},{"c":14,"x":100,"y":0},
{"c":15,"x":0,"y":0},{"c":15,"x":2,"y":45},{"c":15,"x":9,"y":85},{"c":15,"x":16,"y":60},{"c":15,"x":23,"y":42},{"c":15,"x":30,"y":55},{"c":15,"x":37,"y":60},{"c":15,"x":44,"y":40},{"c":15,"x":51,"y":75},{"c":15,"x":58,"y":60},{"c":15,"x":65,"y":45},{"c":15,"x":72,"y":70},{"c":15,"x":79,"y":55},{"c":15,"x":86,"y":80},{"c":15,"x":93,"y":60},{"c":15,"x":100,"y":0},
{"c":16,"x":0,"y":0},{"c":16,"x":3,"y":20},{"c":16,"x":10,"y":35},{"c":16,"x":20,"y":25},{"c":16,"x":30,"y":40},{"c":16,"x":40,"y":45},{"c":16,"x":50,"y":38},{"c":16,"x":60,"y":42},{"c":16,"x":70,"y":35},{"c":16,"x":80,"y":42},{"c":16,"x":90,"y":30},{"c":16,"x":100,"y":0}
]
},
"spacing": 64,
"vconcat": [
{"spacing": 47, "hconcat": [
{"data": {"name": "a"}, "width": 209, "height": 126, "title": {"text": "(a)\u00a0\u00a0\u00a0 63.65 (13.86)"}, "mark": {"type": "line"},
 "encoding": {"x": {"field": "x", "type": "quantitative", "scale": {"domain": [0, 100], "nice": false}, "axis": {"title": "FEW"}}, "y": {"field": "y", "type": "quantitative", "scale": {"domain": [0, 126], "nice": false}, "axis": null}, "detail": {"field": "c", "type": "nominal"}}},
{"data": {"name": "b"}, "width": 209, "height": 126, "title": {"text": "(b)\u00a0\u00a0\u00a0 78.70 (22.23)"}, "mark": {"type": "line"},
 "encoding": {"x": {"field": "x", "type": "quantitative", "scale": {"domain": [0, 100], "nice": false}, "axis": {"title": "MED"}}, "y": {"field": "y", "type": "quantitative", "scale": {"domain": [0, 126], "nice": false}, "axis": null}, "detail": {"field": "c", "type": "nominal"}}},
{"data": {"name": "c"}, "width": 209, "height": 126, "title": {"text": "(c)\u00a0\u00a0\u00a0 87.77 (33.31)"}, "mark": {"type": "line"},
 "encoding": {"x": {"field": "x", "type": "quantitative", "scale": {"domain": [0, 100], "nice": false}, "axis": {"title": "MANY"}}, "y": {"field": "y", "type": "quantitative", "scale": {"domain": [0, 126], "nice": false}, "axis": null}, "detail": {"field": "c", "type": "nominal"}}}
]},
{"spacing": 47, "hconcat": [
{"data": {"name": "d"}, "width": 209, "height": 126, "title": {"text": "(d)\u00a0\u00a0\u00a0 51.19 (1.98)", "offset": -5}, "mark": {"type": "line"},
 "encoding": {"x": {"field": "x", "type": "quantitative", "scale": {"domain": [0, 100], "nice": false}, "axis": {"title": "LOW"}}, "y": {"field": "y", "type": "quantitative", "scale": {"domain": [0, 126], "nice": false}, "axis": null}, "detail": {"field": "c", "type": "nominal"}}},
{"data": {"name": "e"}, "width": 209, "height": 126, "title": {"text": "(e)\u00a0\u00a0\u00a0 78.75 (15.78)", "offset": -5}, "mark": {"type": "line"},
 "encoding": {"x": {"field": "x", "type": "quantitative", "scale": {"domain": [0, 100], "nice": false}, "axis": {"title": "MIX"}}, "y": {"field": "y", "type": "quantitative", "scale": {"domain": [0, 126], "nice": false}, "axis": null}, "detail": {"field": "c", "type": "nominal"}}},
{"data": {"name": "f"}, "width": 209, "height": 126, "title": {"text": "(f)\u00a0\u00a0\u00a0 100.18 (23.84)", "offset": -5}, "mark": {"type": "line"},
 "encoding": {"x": {"field": "x", "type": "quantitative", "scale": {"domain": [0, 100], "nice": false}, "axis": {"title": "HIGH"}}, "y": {"field": "y", "type": "quantitative", "scale": {"domain": [0, 126], "nice": false}, "axis": null}, "detail": {"field": "c", "type": "nominal"}}}
]}
]
}
